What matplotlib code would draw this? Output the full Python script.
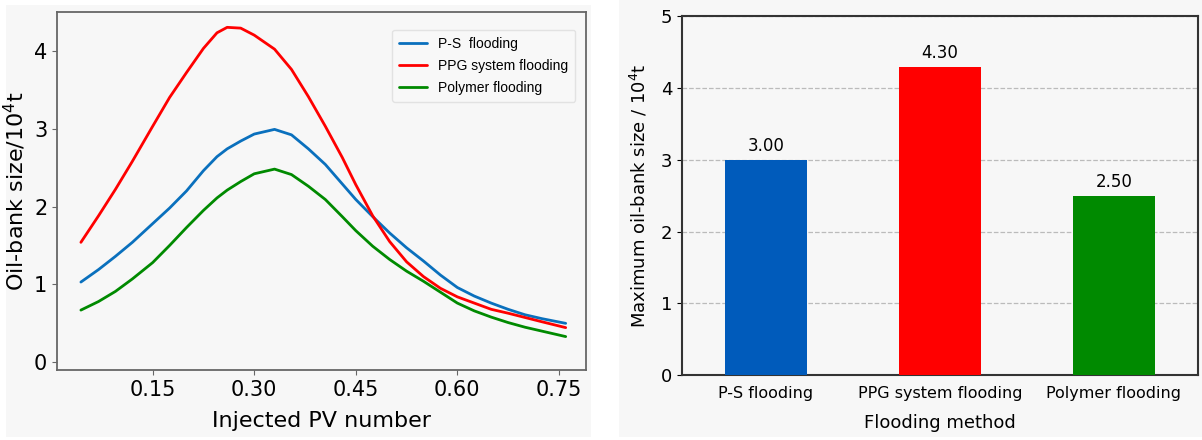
import matplotlib
matplotlib.use("Agg")
import matplotlib.pyplot as plt
from matplotlib.patches import Rectangle

# ---- data ----
pv = [0.044, 0.07, 0.095, 0.12, 0.15, 0.175, 0.20, 0.225, 0.245, 0.26,
      0.28, 0.30, 0.33, 0.355, 0.38, 0.405, 0.43, 0.45, 0.475, 0.50,
      0.525, 0.55, 0.575, 0.60, 0.625, 0.65, 0.675, 0.70, 0.725, 0.76]

ps_flooding = [1.03, 1.19, 1.36, 1.54, 1.78, 1.98, 2.20, 2.46, 2.64, 2.74,
               2.84, 2.93, 2.99, 2.92, 2.74, 2.54, 2.29, 2.09, 1.87, 1.66,
               1.47, 1.30, 1.12, 0.96, 0.85, 0.76, 0.68, 0.61, 0.56, 0.50]

ppg_flooding = [1.54, 1.88, 2.22, 2.58, 3.03, 3.40, 3.72, 4.03, 4.23, 4.30,
                4.29, 4.20, 4.02, 3.76, 3.41, 3.03, 2.63, 2.28, 1.88, 1.55,
                1.29, 1.10, 0.95, 0.84, 0.76, 0.68, 0.63, 0.575, 0.52, 0.445]

polymer_flooding = [0.67, 0.78, 0.91, 1.07, 1.28, 1.50, 1.73, 1.95, 2.11, 2.21,
                    2.32, 2.42, 2.48, 2.41, 2.26, 2.09, 1.87, 1.69, 1.49, 1.32,
                    1.17, 1.04, 0.90, 0.76, 0.66, 0.58, 0.51, 0.45, 0.40, 0.33]

methods = ["P-S flooding", "PPG system flooding", "Polymer flooding"]
max_bank = [3.00, 4.30, 2.50]

line_colors = ["#0a70bd", "#ff0000", "#008a00"]
bar_colors = ["#005bbb", "#ff0000", "#008a00"]

W, H = 1202, 440
fig = plt.figure(figsize=(W / 100, H / 100), dpi=100)
fig.patch.set_facecolor("white")

# light grey panels behind each chart
panel = "#f7f7f7"
fig.patches.append(Rectangle((6 / W, 3 / H), 585 / W, 432 / H, transform=fig.transFigure,
                             facecolor=panel, edgecolor="none", zorder=-10))
fig.patches.append(Rectangle((619 / W, 3 / H), 583 / W, 437 / H, transform=fig.transFigure,
                             facecolor=panel, edgecolor="none", zorder=-10))

##################
### LEFT CHART ###
##################
ax1 = fig.add_axes([57 / W, 70 / H, 529 / W, 358 / H])
ax1.set_facecolor(panel)
kw = dict(lw=2, solid_joinstyle="round", solid_capstyle="round")
ax1.plot(pv, ps_flooding, color=line_colors[0], label="P-S  flooding", **kw)
ax1.plot(pv, ppg_flooding, color=line_colors[1], label="PPG system flooding", **kw)
ax1.plot(pv, polymer_flooding, color=line_colors[2], label="Polymer flooding", **kw)
ax1.set_xlim(0.0087, 0.7900)
ax1.set_ylim(-0.099, 4.497)
ax1.set_xticks([0.15, 0.30, 0.45, 0.60, 0.75])
ax1.set_xticklabels(["0.15", "0.30", "0.45", "0.60", "0.75"])
ax1.set_yticks([0, 1, 2, 3, 4])
for s in ax1.spines.values():
    s.set_color("#666666")
    s.set_linewidth(1.3)
ax1.tick_params(colors="#666666", labelcolor="black", length=3.5)
for lab in ax1.get_xticklabels() + ax1.get_yticklabels():
    lab.set_fontsize(15)
ax1.set_xlabel("Injected PV number", fontsize=16, labelpad=8)
ax1.set_ylabel("Oil-bank size/10$^4$t", fontsize=16, labelpad=4)
leg = ax1.legend(loc="upper right", prop={"family": "Liberation Sans", "size": 10},
                 frameon=True, fancybox=True, borderpad=0.5, labelspacing=0.6,
                 bbox_to_anchor=(0.993, 0.97))
leg.get_frame().set_edgecolor("#dddddd")
leg.get_frame().set_facecolor("#f9f9f9")

###################
### RIGHT CHART ###
###################
ax2 = fig.add_axes([682 / W, 65 / H, 516 / W, 358.5 / H])
ax2.set_facecolor(panel)
xpos = range(len(methods))
bars = ax2.bar(xpos, max_bank, width=0.47, color=bar_colors, zorder=3)
for b, v in zip(bars, max_bank):
    ax2.text(b.get_x() + b.get_width() / 2, v + 0.07, f"{v:.2f}", ha="center", va="bottom",
             fontsize=12)
ax2.set_xlim(-0.483, 2.483)
ax2.set_ylim(0, 5)
ax2.set_xticks(list(xpos))
ax2.set_xticklabels(methods, fontsize=11.5)
ax2.set_yticks([0, 1, 2, 3, 4, 5])
ax2.tick_params(axis="y", labelsize=13)
ax2.tick_params(axis="x", length=0, pad=8)
ax2.yaxis.grid(True, linestyle="--", color="#bbbbbb", lw=0.9, zorder=0)
for s in ax2.spines.values():
    s.set_color("#333333")
    s.set_linewidth(1.5)
ax2.set_xlabel("Flooding method", fontsize=13, labelpad=9)
ax2.set_ylabel("Maximum oil-bank size / 10$^4$t", fontsize=13, labelpad=8)

plt.savefig("out.png", dpi=100)
